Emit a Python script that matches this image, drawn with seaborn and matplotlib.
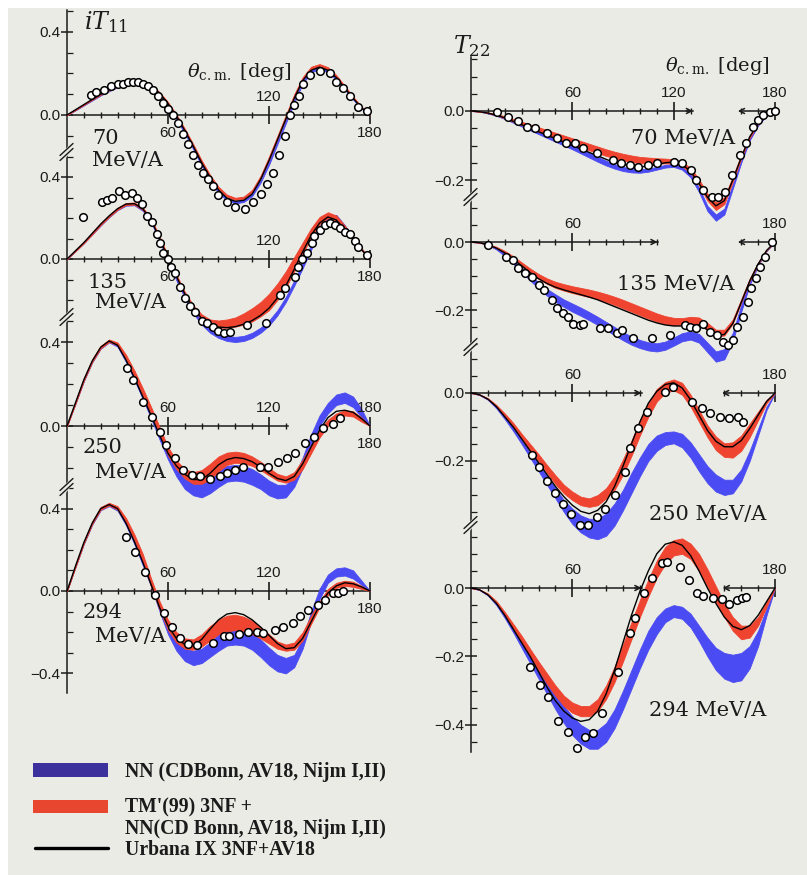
import numpy as np
import pandas as pd
import matplotlib
matplotlib.use("Agg")
import matplotlib.pyplot as plt
from matplotlib.lines import Line2D
from matplotlib.patches import Rectangle
import seaborn as sns

sns.set_style("ticks")
plt.rcParams["font.family"] = ["DejaVu Sans"]
plt.rcParams["mathtext.fontset"] = "dejavuserif"
plt.rcParams["axes.unicode_minus"] = True

# ---------------- data ----------------
theta_grid = list(range(0, 181, 5))

# iT11, 70 MeV/A
it11_70_urb = [0, 0.025, 0.05, 0.075, 0.10, 0.12, 0.14, 0.152, 0.158, 0.155, 0.14, 0.105, 0.055, -0.005, -0.075, -0.15, -0.23, -0.30, -0.36, -0.40, -0.415, -0.41, -0.38, -0.31, -0.22, -0.12, -0.02, 0.08, 0.165, 0.215, 0.23, 0.215, 0.18, 0.13, 0.08, 0.035, 0]
it11_70_nn_lo = [0, 0.022, 0.046, 0.07, 0.094, 0.114, 0.133, 0.145, 0.15, 0.146, 0.13, 0.094, 0.042, -0.02, -0.09, -0.165, -0.245, -0.315, -0.375, -0.41, -0.425, -0.418, -0.39, -0.325, -0.24, -0.14, -0.04, 0.06, 0.15, 0.205, 0.22, 0.205, 0.17, 0.122, 0.074, 0.03, 0]
it11_70_nn_hi = [0, 0.025, 0.05, 0.075, 0.1, 0.12, 0.14, 0.151, 0.156, 0.153, 0.137, 0.1, 0.05, -0.01, -0.08, -0.155, -0.235, -0.305, -0.362, -0.4, -0.415, -0.408, -0.378, -0.31, -0.225, -0.125, -0.025, 0.075, 0.162, 0.215, 0.23, 0.215, 0.178, 0.128, 0.078, 0.034, 0]
it11_70_3nf_lo = [0, 0.024, 0.048, 0.073, 0.097, 0.117, 0.137, 0.15, 0.155, 0.152, 0.138, 0.103, 0.054, -0.006, -0.075, -0.15, -0.228, -0.298, -0.355, -0.393, -0.408, -0.402, -0.372, -0.305, -0.215, -0.115, -0.015, 0.085, 0.17, 0.22, 0.233, 0.218, 0.182, 0.132, 0.082, 0.036, 0]
it11_70_3nf_hi = [0, 0.027, 0.053, 0.078, 0.103, 0.124, 0.144, 0.157, 0.162, 0.159, 0.145, 0.11, 0.062, 0.003, -0.066, -0.14, -0.218, -0.288, -0.345, -0.383, -0.398, -0.392, -0.36, -0.292, -0.2, -0.1, 0.0, 0.1, 0.182, 0.232, 0.245, 0.23, 0.192, 0.14, 0.088, 0.04, 0]
it11_70_exp_theta = [14, 17, 22, 26, 30, 33, 36, 39, 42, 45, 48, 51, 54, 57, 60, 63, 66, 69, 72, 75, 78, 81, 84, 87, 90, 95, 100, 106, 110.5, 115, 119, 122.5, 126, 129.5, 132.5, 135, 138, 140, 144.5, 150, 156, 160, 164, 168, 173, 178]
it11_70_exp_val = [0.095, 0.11, 0.12, 0.14, 0.15, 0.15, 0.16, 0.16, 0.16, 0.15, 0.14, 0.12, 0.09, 0.06, 0.03, 0.0, -0.04, -0.09, -0.14, -0.19, -0.24, -0.28, -0.31, -0.34, -0.385, -0.42, -0.44, -0.45, -0.42, -0.38, -0.33, -0.28, -0.19, -0.10, 0.0, 0.05, 0.09, 0.15, 0.19, 0.21, 0.20, 0.16, 0.13, 0.09, 0.04, 0.02]

# iT11, 135 MeV/A
it11_135_urb = [0, 0.04, 0.08, 0.125, 0.17, 0.21, 0.245, 0.268, 0.27, 0.245, 0.19, 0.1, 0.005, -0.085, -0.17, -0.24, -0.29, -0.32, -0.332, -0.335, -0.33, -0.318, -0.30, -0.275, -0.24, -0.19, -0.13, -0.05, 0.035, 0.115, 0.175, 0.205, 0.19, 0.145, 0.095, 0.045, 0]
it11_135_nn_lo = [0, 0.038, 0.076, 0.12, 0.163, 0.203, 0.238, 0.26, 0.262, 0.235, 0.178, 0.085, -0.012, -0.105, -0.19, -0.265, -0.32, -0.36, -0.385, -0.4, -0.405, -0.4, -0.385, -0.36, -0.325, -0.275, -0.21, -0.13, -0.045, 0.045, 0.135, 0.195, 0.195, 0.15, 0.095, 0.043, 0]
it11_135_nn_hi = [0, 0.041, 0.081, 0.126, 0.17, 0.21, 0.245, 0.268, 0.27, 0.245, 0.19, 0.1, 0.003, -0.088, -0.172, -0.245, -0.3, -0.335, -0.36, -0.375, -0.38, -0.375, -0.36, -0.335, -0.3, -0.25, -0.185, -0.105, -0.02, 0.07, 0.16, 0.215, 0.215, 0.165, 0.108, 0.052, 0]
it11_135_3nf_lo = [0, 0.038, 0.077, 0.12, 0.165, 0.205, 0.24, 0.263, 0.265, 0.24, 0.185, 0.095, 0.0, -0.09, -0.175, -0.245, -0.295, -0.325, -0.335, -0.335, -0.33, -0.32, -0.305, -0.28, -0.25, -0.2, -0.14, -0.06, 0.025, 0.105, 0.17, 0.2, 0.188, 0.143, 0.093, 0.043, 0]
it11_135_3nf_hi = [0, 0.042, 0.083, 0.13, 0.175, 0.215, 0.25, 0.273, 0.276, 0.252, 0.198, 0.11, 0.015, -0.075, -0.16, -0.225, -0.27, -0.295, -0.3, -0.295, -0.285, -0.265, -0.24, -0.21, -0.17, -0.12, -0.06, 0.01, 0.08, 0.15, 0.205, 0.228, 0.212, 0.163, 0.108, 0.052, 0]
it11_135_exp_theta = [9.7, 20.6, 23.5, 27, 31, 34.5, 38.5, 41.5, 44.5, 47.5, 50.5, 53.5, 55, 57, 60, 62, 64, 67, 70, 73, 76, 80, 83, 87, 90, 93, 97, 107, 118, 126.5, 129.5, 135.5, 137, 139.5, 142.5, 145.5, 147, 150, 153, 156, 159, 162, 165, 168, 171, 173, 178]
it11_135_exp_val = [0.205, 0.28, 0.29, 0.30, 0.33, 0.31, 0.32, 0.30, 0.27, 0.21, 0.18, 0.12, 0.08, 0.03, 0.0, -0.04, -0.07, -0.135, -0.19, -0.23, -0.26, -0.30, -0.31, -0.33, -0.35, -0.36, -0.355, -0.32, -0.31, -0.175, -0.14, -0.09, -0.04, 0.0, 0.03, 0.08, 0.11, 0.14, 0.165, 0.175, 0.165, 0.15, 0.13, 0.12, 0.09, 0.06, 0.02]

# iT11, 250 MeV/A
it11_250_urb = [0, 0.11, 0.22, 0.31, 0.375, 0.405, 0.385, 0.315, 0.23, 0.14, 0.05, -0.045, -0.13, -0.19, -0.23, -0.255, -0.255, -0.225, -0.185, -0.16, -0.15, -0.155, -0.17, -0.195, -0.225, -0.25, -0.26, -0.24, -0.18, -0.10, -0.02, 0.04, 0.07, 0.075, 0.065, 0.035, 0]
it11_250_nn_lo = [0, 0.105, 0.213, 0.303, 0.368, 0.398, 0.378, 0.305, 0.22, 0.128, 0.035, -0.065, -0.16, -0.24, -0.3, -0.33, -0.34, -0.32, -0.29, -0.265, -0.26, -0.265, -0.28, -0.3, -0.33, -0.345, -0.34, -0.29, -0.2, -0.09, 0.0, 0.06, 0.1, 0.11, 0.09, 0.04, 0]
it11_250_nn_hi = [0, 0.11, 0.22, 0.31, 0.375, 0.405, 0.385, 0.315, 0.23, 0.14, 0.048, -0.045, -0.13, -0.2, -0.25, -0.27, -0.27, -0.25, -0.21, -0.19, -0.185, -0.19, -0.205, -0.23, -0.26, -0.28, -0.28, -0.24, -0.15, -0.04, 0.05, 0.11, 0.15, 0.16, 0.14, 0.08, 0]
it11_250_3nf_lo = [0, 0.105, 0.215, 0.305, 0.37, 0.40, 0.385, 0.315, 0.235, 0.145, 0.055, -0.04, -0.14, -0.205, -0.25, -0.275, -0.275, -0.255, -0.215, -0.185, -0.175, -0.178, -0.19, -0.21, -0.235, -0.26, -0.27, -0.255, -0.205, -0.13, -0.055, 0.0, 0.035, 0.05, 0.045, 0.02, 0]
it11_250_3nf_hi = [0, 0.115, 0.228, 0.318, 0.382, 0.412, 0.398, 0.34, 0.265, 0.18, 0.09, -0.005, -0.1, -0.165, -0.205, -0.22, -0.21, -0.18, -0.145, -0.127, -0.122, -0.128, -0.145, -0.17, -0.2, -0.228, -0.24, -0.22, -0.16, -0.09, -0.02, 0.03, 0.06, 0.075, 0.07, 0.04, 0]
it11_250_exp_theta = [35.5, 39.5, 45, 50.5, 55, 59, 64, 69, 74, 79, 85, 91, 95, 100, 104.5, 114.5, 119.5, 125.5, 130.5, 135.5, 141.5, 147, 152, 158, 162]
it11_250_exp_val = [0.275, 0.22, 0.115, 0.045, -0.03, -0.09, -0.15, -0.21, -0.235, -0.24, -0.25, -0.24, -0.225, -0.21, -0.195, -0.195, -0.195, -0.17, -0.15, -0.13, -0.08, -0.05, -0.01, 0.01, 0.04]

# iT11, 294 MeV/A
it11_294_urb = [0, 0.12, 0.235, 0.33, 0.40, 0.42, 0.40, 0.33, 0.24, 0.14, 0.03, -0.08, -0.17, -0.23, -0.26, -0.265, -0.235, -0.185, -0.14, -0.112, -0.105, -0.115, -0.14, -0.175, -0.215, -0.255, -0.28, -0.275, -0.23, -0.15, -0.07, -0.01, 0.025, 0.04, 0.035, 0.02, 0]
it11_294_nn_lo = [0, 0.115, 0.228, 0.322, 0.392, 0.412, 0.39, 0.32, 0.228, 0.125, 0.02, -0.1, -0.21, -0.29, -0.34, -0.36, -0.35, -0.32, -0.29, -0.265, -0.26, -0.265, -0.285, -0.32, -0.36, -0.39, -0.40, -0.37, -0.28, -0.15, -0.04, 0.04, 0.07, 0.075, 0.06, 0.03, 0]
it11_294_nn_hi = [0, 0.12, 0.235, 0.33, 0.4, 0.42, 0.4, 0.33, 0.24, 0.14, 0.04, -0.07, -0.17, -0.24, -0.28, -0.29, -0.28, -0.25, -0.21, -0.185, -0.175, -0.18, -0.2, -0.235, -0.275, -0.31, -0.325, -0.31, -0.23, -0.1, 0.01, 0.08, 0.11, 0.115, 0.1, 0.05, 0]
it11_294_3nf_lo = [0, 0.115, 0.23, 0.325, 0.395, 0.415, 0.395, 0.33, 0.245, 0.145, 0.02, -0.09, -0.19, -0.25, -0.28, -0.285, -0.27, -0.24, -0.21, -0.195, -0.19, -0.195, -0.21, -0.23, -0.255, -0.28, -0.29, -0.285, -0.24, -0.16, -0.08, -0.02, 0.015, 0.025, 0.02, 0.01, 0]
it11_294_3nf_hi = [0, 0.125, 0.24, 0.338, 0.408, 0.428, 0.412, 0.355, 0.275, 0.18, 0.06, -0.05, -0.14, -0.2, -0.23, -0.235, -0.21, -0.17, -0.14, -0.12, -0.115, -0.125, -0.145, -0.175, -0.21, -0.245, -0.26, -0.25, -0.2, -0.12, -0.05, 0.01, 0.04, 0.05, 0.045, 0.025, 0]
it11_294_exp_theta = [35, 40.5, 46.5, 52.5, 57.5, 62.5, 67, 72, 77, 87, 93, 96, 102, 107.5, 113, 116.5, 123.5, 128.5, 134, 138.5, 143, 149, 153, 158, 161, 164]
it11_294_exp_val = [0.26, 0.19, 0.09, -0.02, -0.105, -0.175, -0.23, -0.255, -0.26, -0.25, -0.22, -0.22, -0.21, -0.20, -0.20, -0.205, -0.19, -0.175, -0.155, -0.12, -0.09, -0.07, -0.045, -0.01, -0.01, 0.0]

# T22, 70 MeV/A
t22_70_urb = [0, -0.002, -0.006, -0.012, -0.02, -0.03, -0.04, -0.05, -0.06, -0.07, -0.08, -0.09, -0.10, -0.11, -0.12, -0.13, -0.14, -0.15, -0.155, -0.16, -0.162, -0.16, -0.155, -0.15, -0.148, -0.155, -0.175, -0.21, -0.25, -0.275, -0.26, -0.2, -0.135, -0.075, -0.037, -0.011, 0]
t22_70_nn_lo = [0, -0.002, -0.007, -0.014, -0.023, -0.034, -0.045, -0.056, -0.067, -0.078, -0.089, -0.1, -0.111, -0.123, -0.135, -0.147, -0.158, -0.167, -0.174, -0.178, -0.179, -0.176, -0.17, -0.164, -0.162, -0.17, -0.192, -0.235, -0.29, -0.318, -0.3, -0.225, -0.15, -0.085, -0.042, -0.013, 0]
t22_70_nn_hi = [0, -0.001, -0.005, -0.011, -0.019, -0.029, -0.039, -0.049, -0.059, -0.069, -0.079, -0.089, -0.099, -0.11, -0.121, -0.133, -0.144, -0.154, -0.162, -0.167, -0.169, -0.167, -0.162, -0.156, -0.154, -0.161, -0.182, -0.222, -0.275, -0.3, -0.283, -0.212, -0.142, -0.08, -0.04, -0.012, 0]
t22_70_3nf_lo = [0, -0.002, -0.006, -0.013, -0.021, -0.031, -0.041, -0.051, -0.06, -0.07, -0.079, -0.088, -0.097, -0.106, -0.114, -0.122, -0.13, -0.137, -0.143, -0.148, -0.151, -0.152, -0.152, -0.152, -0.152, -0.16, -0.18, -0.215, -0.26, -0.287, -0.27, -0.205, -0.138, -0.078, -0.038, -0.011, 0]
t22_70_3nf_hi = [0, -0.001, -0.004, -0.009, -0.015, -0.023, -0.031, -0.039, -0.047, -0.055, -0.063, -0.071, -0.079, -0.087, -0.095, -0.103, -0.111, -0.118, -0.124, -0.129, -0.133, -0.135, -0.137, -0.138, -0.14, -0.147, -0.165, -0.198, -0.24, -0.265, -0.25, -0.19, -0.127, -0.072, -0.035, -0.01, 0]
t22_70_exp_theta = [15.4, 22, 28, 33, 38, 45, 51, 56.5, 61.5, 66.5, 74.5, 84, 89, 94, 99, 105, 110, 120, 125, 130, 133.5, 137.5, 142.5, 146.5, 150.5, 154.5, 159, 163, 167, 170, 173, 177, 180]
t22_70_exp_val = [-0.003, -0.017, -0.03, -0.046, -0.05, -0.064, -0.078, -0.093, -0.093, -0.108, -0.122, -0.142, -0.151, -0.157, -0.162, -0.157, -0.151, -0.148, -0.15, -0.171, -0.2, -0.229, -0.249, -0.249, -0.234, -0.186, -0.128, -0.094, -0.046, -0.026, -0.012, -0.003, 0.0]

# T22, 135 MeV/A
t22_135_urb = [0, -0.002, -0.008, -0.018, -0.032, -0.05, -0.07, -0.09, -0.108, -0.122, -0.133, -0.141, -0.148, -0.155, -0.162, -0.17, -0.18, -0.19, -0.2, -0.21, -0.22, -0.23, -0.238, -0.244, -0.247, -0.247, -0.243, -0.245, -0.258, -0.275, -0.272, -0.24, -0.178, -0.115, -0.065, -0.025, 0]
t22_135_nn_lo = [0, -0.002, -0.009, -0.022, -0.041, -0.064, -0.089, -0.113, -0.137, -0.158, -0.176, -0.191, -0.205, -0.217, -0.23, -0.244, -0.259, -0.274, -0.289, -0.302, -0.312, -0.319, -0.322, -0.317, -0.305, -0.292, -0.287, -0.296, -0.324, -0.352, -0.345, -0.293, -0.205, -0.127, -0.069, -0.027, 0]
t22_135_nn_hi = [0, -0.001, -0.007, -0.018, -0.033, -0.052, -0.075, -0.097, -0.119, -0.138, -0.154, -0.169, -0.181, -0.193, -0.206, -0.22, -0.235, -0.25, -0.265, -0.278, -0.288, -0.295, -0.298, -0.293, -0.281, -0.268, -0.263, -0.27, -0.296, -0.322, -0.315, -0.267, -0.185, -0.113, -0.061, -0.023, 0]
t22_135_3nf_lo = [0, -0.002, -0.008, -0.018, -0.032, -0.05, -0.07, -0.09, -0.108, -0.123, -0.135, -0.143, -0.15, -0.156, -0.162, -0.168, -0.176, -0.185, -0.195, -0.205, -0.215, -0.225, -0.234, -0.241, -0.245, -0.243, -0.238, -0.242, -0.258, -0.278, -0.275, -0.24, -0.178, -0.115, -0.065, -0.025, 0]
t22_135_3nf_hi = [0, -0.001, -0.006, -0.014, -0.026, -0.042, -0.06, -0.078, -0.094, -0.107, -0.117, -0.124, -0.13, -0.135, -0.14, -0.146, -0.153, -0.161, -0.17, -0.18, -0.19, -0.2, -0.21, -0.218, -0.223, -0.224, -0.22, -0.222, -0.238, -0.258, -0.258, -0.228, -0.168, -0.108, -0.06, -0.022, 0]
t22_135_exp_theta = [10, 21, 25, 28, 32, 36, 40, 43, 48, 51, 54.5, 57.5, 60.5, 64.5, 66.5, 76.5, 81, 86.5, 89.5, 96, 107, 118, 127, 129.5, 133.5, 137.5, 141.5, 145.5, 149.5, 152, 155, 157.5, 161, 164, 166, 169, 171, 174, 178]
t22_135_exp_val = [-0.01, -0.043, -0.053, -0.077, -0.092, -0.102, -0.126, -0.141, -0.17, -0.195, -0.21, -0.22, -0.24, -0.245, -0.24, -0.253, -0.253, -0.268, -0.26, -0.283, -0.283, -0.274, -0.245, -0.25, -0.253, -0.24, -0.265, -0.274, -0.294, -0.303, -0.288, -0.25, -0.22, -0.176, -0.135, -0.106, -0.074, -0.044, 0.0]

# T22, 250 MeV/A
t22_250_urb = [0, -0.005, -0.018, -0.04, -0.07, -0.10, -0.135, -0.17, -0.205, -0.24, -0.275, -0.305, -0.33, -0.348, -0.355, -0.345, -0.32, -0.275, -0.215, -0.15, -0.085, -0.03, 0.005, 0.025, 0.03, 0.015, -0.02, -0.065, -0.11, -0.142, -0.158, -0.158, -0.14, -0.105, -0.065, -0.025, 0]
t22_250_nn_lo = [0, -0.006, -0.02, -0.045, -0.077, -0.112, -0.15, -0.19, -0.23, -0.27, -0.31, -0.35, -0.385, -0.41, -0.425, -0.43, -0.42, -0.39, -0.345, -0.295, -0.245, -0.2, -0.17, -0.153, -0.148, -0.16, -0.19, -0.23, -0.265, -0.29, -0.3, -0.295, -0.26, -0.2, -0.125, -0.05, 0]
t22_250_nn_hi = [0, -0.005, -0.017, -0.04, -0.07, -0.103, -0.14, -0.175, -0.21, -0.245, -0.28, -0.315, -0.34, -0.36, -0.37, -0.37, -0.355, -0.325, -0.285, -0.235, -0.19, -0.15, -0.125, -0.115, -0.113, -0.12, -0.145, -0.18, -0.215, -0.24, -0.255, -0.255, -0.225, -0.17, -0.105, -0.04, 0]
t22_250_3nf_lo = [0, -0.005, -0.018, -0.04, -0.068, -0.1, -0.135, -0.168, -0.2, -0.235, -0.268, -0.295, -0.315, -0.33, -0.335, -0.33, -0.31, -0.285, -0.24, -0.185, -0.125, -0.07, -0.025, 0.0, 0.008, -0.005, -0.04, -0.085, -0.13, -0.168, -0.188, -0.19, -0.17, -0.13, -0.08, -0.03, 0]
t22_250_3nf_hi = [0, -0.004, -0.015, -0.035, -0.06, -0.088, -0.12, -0.15, -0.18, -0.212, -0.242, -0.27, -0.29, -0.305, -0.31, -0.3, -0.28, -0.245, -0.195, -0.14, -0.08, -0.03, 0.012, 0.032, 0.04, 0.03, -0.005, -0.05, -0.095, -0.128, -0.148, -0.145, -0.125, -0.09, -0.055, -0.02, 0]
t22_250_exp_theta = [36, 40, 45, 50, 54.5, 59.5, 64.5, 69, 74.5, 79.5, 85, 91, 94, 99, 104, 115, 119.5, 131, 136.5, 141.5, 147.5, 153, 158, 161]
t22_250_exp_val = [-0.182, -0.217, -0.26, -0.295, -0.325, -0.355, -0.388, -0.388, -0.365, -0.34, -0.30, -0.232, -0.162, -0.103, -0.056, 0.003, 0.018, -0.026, -0.044, -0.059, -0.07, -0.074, -0.07, -0.085]

# T22, 294 MeV/A
t22_294_urb = [0, -0.005, -0.02, -0.045, -0.08, -0.12, -0.16, -0.2, -0.245, -0.29, -0.33, -0.36, -0.38, -0.39, -0.385, -0.36, -0.31, -0.24, -0.16, -0.08, -0.01, 0.05, 0.1, 0.128, 0.135, 0.125, 0.095, 0.05, 0.0, -0.045, -0.085, -0.112, -0.122, -0.11, -0.08, -0.04, 0]
t22_294_nn_lo = [0, -0.006, -0.022, -0.05, -0.088, -0.13, -0.175, -0.22, -0.265, -0.31, -0.355, -0.395, -0.43, -0.455, -0.47, -0.47, -0.45, -0.41, -0.355, -0.295, -0.235, -0.18, -0.135, -0.1, -0.085, -0.09, -0.115, -0.155, -0.2, -0.24, -0.265, -0.275, -0.27, -0.235, -0.17, -0.08, 0]
t22_294_nn_hi = [0, -0.005, -0.018, -0.043, -0.078, -0.115, -0.155, -0.195, -0.235, -0.275, -0.31, -0.345, -0.375, -0.4, -0.415, -0.415, -0.395, -0.355, -0.3, -0.24, -0.18, -0.125, -0.085, -0.06, -0.05, -0.055, -0.075, -0.11, -0.145, -0.175, -0.19, -0.195, -0.19, -0.17, -0.125, -0.06, 0]
t22_294_3nf_lo = [0, -0.005, -0.02, -0.045, -0.08, -0.12, -0.16, -0.2, -0.24, -0.28, -0.315, -0.345, -0.365, -0.375, -0.375, -0.36, -0.325, -0.275, -0.215, -0.15, -0.085, -0.025, 0.03, 0.07, 0.095, 0.1, 0.085, 0.05, 0.005, -0.04, -0.085, -0.125, -0.15, -0.145, -0.11, -0.055, 0]
t22_294_3nf_hi = [0, -0.004, -0.016, -0.038, -0.07, -0.105, -0.14, -0.178, -0.215, -0.25, -0.285, -0.315, -0.335, -0.345, -0.345, -0.325, -0.285, -0.23, -0.165, -0.1, -0.035, 0.025, 0.08, 0.12, 0.14, 0.145, 0.13, 0.1, 0.055, 0.005, -0.045, -0.085, -0.11, -0.11, -0.085, -0.04, 0]
t22_294_exp_theta = [35, 41, 45.5, 51.5, 57.5, 62.5, 67.5, 72.5, 77.5, 87, 94, 97, 102.5, 107, 113, 116, 123.5, 129, 134, 137.5, 143, 148.5, 153, 157.5, 160.5, 163]
t22_294_exp_val = [-0.23, -0.283, -0.318, -0.39, -0.42, -0.467, -0.435, -0.424, -0.366, -0.245, -0.132, -0.088, -0.015, 0.029, 0.073, 0.076, 0.061, 0.023, -0.015, -0.023, -0.029, -0.032, -0.047, -0.035, -0.029, -0.026]

energy_labels = ["70", "135", "250", "294"]
legend_labels = ["NN (CDBonn, AV18, Nijm I,II)", "TM'(99) 3NF +",
                 "NN(CD Bonn, AV18, Nijm I,II)", "Urbana IX 3NF+AV18"]

# ---------------- styling / layout ----------------
W, H = 807, 875
BG = "#ebebe5"
BLUE = "#4b4bf3"
RED = "#ef4430"
LEG_BLUE = "#3b309c"
LEG_RED = "#e9462f"
INK = "#1b1b1b"
TICK_FONT = "Liberation Sans"
SERIF = "DejaVu Serif"


def fx(x):
    return x / W


def fy(y):
    return 1 - y / H


fig = plt.figure(figsize=(W / 100, H / 100), dpi=100, facecolor="white")
fig.add_artist(Rectangle((fx(8), fy(875)), fx(807) - fx(8), fy(8) - fy(875),
                         transform=fig.transFigure, facecolor=BG,
                         edgecolor="none", zorder=-10))

left_x = (67, 370)
right_x = (471, 775)

panels = [
    # left column (iT11)
    dict(col=left_x, top=10, bot=152, zero=115, scale=208, yt=[0.0, 0.4], ystep=0.1,
         segs=[(0, 180)], arrows=False, majx=[60, 120, 180],
         xlab=[(60, -1), (120, 1), (180, -1)],
         d=(it11_70_urb, it11_70_nn_lo, it11_70_nn_hi, it11_70_3nf_lo, it11_70_3nf_hi,
            it11_70_exp_theta, it11_70_exp_val)),
    dict(col=left_x, top=152, bot=317, zero=259, scale=205, yt=[0.0, 0.4], ystep=0.1,
         segs=[(0, 180)], arrows=False, majx=[60, 120, 180],
         xlab=[(60, -1), (120, 1), (180, -1)],
         d=(it11_135_urb, it11_135_nn_lo, it11_135_nn_hi, it11_135_3nf_lo, it11_135_3nf_hi,
            it11_135_exp_theta, it11_135_exp_val)),
    dict(col=left_x, top=317, bot=487, zero=426, scale=210, yt=[0.0, 0.4], ystep=0.1,
         segs=[(0, 131)], arrows=False, majx=[60, 120, 180],
         xlab=[(60, 1), (120, 1), (180, 1), (180, -1)],
         d=(it11_250_urb, it11_250_nn_lo, it11_250_nn_hi, it11_250_3nf_lo, it11_250_3nf_hi,
            it11_250_exp_theta, it11_250_exp_val)),
    dict(col=left_x, top=487, bot=693, zero=591, scale=206, yt=[-0.4, 0.0, 0.4], ystep=0.1,
         segs=[(0, 180)], arrows=False, majx=[60, 120, 180],
         xlab=[(60, 1), (120, 1), (180, -1)],
         d=(it11_294_urb, it11_294_nn_lo, it11_294_nn_hi, it11_294_3nf_lo, it11_294_3nf_hi,
            it11_294_exp_theta, it11_294_exp_val)),
    # right column (T22)
    dict(col=right_x, top=57, bot=197, zero=111, scale=345, yt=[-0.2, 0.0], ystep=0.05,
         segs=[(0, 131.5), (158, 180)], arrows=True, majx=[60, 120, 180],
         xlab=[(60, 1), (120, 1), (180, 1)],
         d=(t22_70_urb, t22_70_nn_lo, t22_70_nn_hi, t22_70_3nf_lo, t22_70_3nf_hi,
            t22_70_exp_theta, t22_70_exp_val)),
    dict(col=right_x, top=197, bot=347, zero=242, scale=340, yt=[-0.2, 0.0], ystep=0.05,
         segs=[(0, 110.5), (158, 180)], arrows=True, majx=[60, 180],
         xlab=[(60, 1), (180, 1)],
         d=(t22_135_urb, t22_135_nn_lo, t22_135_nn_hi, t22_135_3nf_lo, t22_135_3nf_hi,
            t22_135_exp_theta, t22_135_exp_val)),
    dict(col=right_x, top=347, bot=525, zero=393, scale=340, yt=[-0.2, 0.0], ystep=0.05,
         segs=[(0, 101), (148.6, 180)], arrows=True, majx=[60, 180],
         xlab=[(60, 1), (180, 1)],
         d=(t22_250_urb, t22_250_nn_lo, t22_250_nn_hi, t22_250_3nf_lo, t22_250_3nf_hi,
            t22_250_exp_theta, t22_250_exp_val)),
    dict(col=right_x, top=525, bot=752, zero=588, scale=342, yt=[-0.4, -0.2, 0.0], ystep=0.05,
         segs=[(0, 101), (149, 180)], arrows=True, majx=[60, 180],
         xlab=[(60, 1), (180, 1)],
         d=(t22_294_urb, t22_294_nn_lo, t22_294_nn_hi, t22_294_3nf_lo, t22_294_3nf_hi,
            t22_294_exp_theta, t22_294_exp_val)),
]

arrow_kw = dict(arrowstyle="->", lw=1.1, color=INK, mutation_scale=9,
                shrinkA=0, shrinkB=0)

for p in panels:
    x0, x1 = p["col"]
    ax = fig.add_axes([fx(x0), fy(p["bot"]), fx(x1) - fx(x0), fy(p["top"]) - fy(p["bot"])])
    ax.set_facecolor("none")
    ax.set_xlim(0, 180)
    ax.set_ylim((p["zero"] - p["bot"]) / p["scale"], (p["zero"] - p["top"]) / p["scale"])

    urb, nn_lo, nn_hi, tnf_lo, tnf_hi, ex_t, ex_v = p["d"]
    band1 = ax.fill_between(theta_grid, nn_lo, nn_hi, color=BLUE, lw=0.6, zorder=3)
    band2 = ax.fill_between(theta_grid, tnf_lo, tnf_hi, color=RED, lw=0.6, zorder=3.2)
    band1.set_clip_on(False)
    band2.set_clip_on(False)
    df = pd.DataFrame({"theta": theta_grid, "urb": urb})
    sns.lineplot(data=df, x="theta", y="urb", ax=ax, color="black", linewidth=1.0,
                 sort=False, estimator=None, zorder=4)
    for ln in ax.lines:
        ln.set_clip_on(False)
    sns.scatterplot(x=ex_t, y=ex_v, ax=ax, s=30, color="white", edgecolor="black",
                    linewidth=1.1, zorder=5, legend=False)
    for c in ax.collections:
        c.set_clip_on(False)
    ax.set_xlabel("")
    ax.set_ylabel("")

    # spines / axes lines
    for s in ("top", "right"):
        ax.spines[s].set_visible(False)
    ax.spines["left"].set_linewidth(1.1)
    ax.spines["left"].set_color(INK)
    ax.spines["bottom"].set_position(("data", 0))
    ax.spines["bottom"].set_linewidth(1.1)
    ax.spines["bottom"].set_color(INK)
    segs = p["segs"]
    ax.spines["bottom"].set_bounds(segs[0][0], segs[0][1])
    if p["arrows"]:
        e = segs[0][1]
        ax.annotate("", xy=(e, 0), xytext=(e - 4, 0), arrowprops=arrow_kw,
                    annotation_clip=False)
        ax.annotate("", xy=(segs[1][0], 0), xytext=(180, 0), arrowprops=arrow_kw,
                    annotation_clip=False)

    # x ticks
    ax.set_xticks(p["majx"])
    minors = [m for m in range(10, 180, 10)
              if m not in (60, 120) and any(a <= m <= b for a, b in segs)]
    ax.set_xticks(minors, minor=True)
    ax.tick_params(axis="x", which="major", direction="inout", length=13, width=1.2,
                   color=INK, labelbottom=False)
    ax.tick_params(axis="x", which="minor", direction="inout", length=5, width=1.0,
                   color=INK)
    for v, side in p["xlab"]:
        ax.annotate(str(v), xy=(v, 0), xytext=(0, 13 * side), textcoords="offset points",
                    ha="center", va="center", fontsize=11, family=TICK_FONT, color=INK,
                    annotation_clip=False)

    # y ticks
    ax.set_yticks(p["yt"])
    ax.set_yticklabels([f"{v:.1f}".replace("-", "\u2212") for v in p["yt"]],
                       family=TICK_FONT, fontsize=11, color=INK)
    ax.yaxis.set_minor_locator(matplotlib.ticker.MultipleLocator(p["ystep"]))
    ax.tick_params(axis="y", which="major", direction="inout", length=8, width=1.1,
                   color=INK, pad=1)
    ax.tick_params(axis="y", which="minor", direction="in", length=4, width=0.9,
                   color=INK)

# break marks on the vertical axes
for xb, yb in [(67, 152), (67, 317), (67, 487), (471, 197), (471, 347), (471, 525)]:
    fig.add_artist(Line2D([fx(xb - 4), fx(xb + 4)], [fy(yb + 5), fy(yb - 5)],
                          transform=fig.transFigure, color=BG, lw=4, zorder=20))
    for dy in (-2.5, 2.5):
        fig.add_artist(Line2D([fx(xb - 7), fx(xb + 6)], [fy(yb + 6 + dy), fy(yb - 6 + dy)],
                              transform=fig.transFigure, color=INK, lw=1.0, zorder=21))

# titles and axis labels
fig.text(fx(84), fy(22), r"$iT_{11}$", fontsize=17, ha="left", va="center", color=INK)
fig.text(fx(453), fy(46), r"$T_{22}$", fontsize=17, ha="left", va="center", color=INK)
fig.text(fx(239), fy(72), r"$\theta_{\rm c.m.}$ [deg]", fontsize=14, ha="center",
         va="center", family=SERIF, color=INK)
fig.text(fx(717), fy(66), r"$\theta_{\rm c.m.}$ [deg]", fontsize=14, ha="center",
         va="center", family=SERIF, color=INK)

# energy labels, left column
left_lab_pos = [((92, 138), (92, 160)), ((87, 283), (95, 302)),
                ((83, 447), (95, 472)), ((83, 613), (95, 637))]
for lab, ((ax_, ay_), (bx_, by_)) in zip(energy_labels, left_lab_pos):
    fig.text(fx(ax_), fy(ay_), lab, fontsize=15, family=SERIF, ha="left", va="center",
             color=INK)
    fig.text(fx(bx_), fy(by_), "MeV/A", fontsize=15, family=SERIF, ha="left",
             va="center", color=INK)

# energy labels, right column
right_lab_pos = [(683, 138), (676, 285), (708, 515), (708, 711)]
for lab, (rx, ry) in zip(energy_labels, right_lab_pos):
    fig.text(fx(rx), fy(ry), f"{lab} MeV/A", fontsize=15, family=SERIF, ha="center",
             va="center", color=INK)

# legend
fig.add_artist(Rectangle((fx(33), fy(777)), fx(108) - fx(33), fy(763) - fy(777),
                         transform=fig.transFigure, facecolor=LEG_BLUE, edgecolor="none"))
fig.add_artist(Rectangle((fx(33), fy(813)), fx(108) - fx(33), fy(800) - fy(813),
                         transform=fig.transFigure, facecolor=LEG_RED, edgecolor="none"))
fig.add_artist(Line2D([fx(35), fx(108)], [fy(848), fy(848)], transform=fig.transFigure,
                      color="black", lw=2.4))
for txt, yy in zip(legend_labels, [772, 807, 829, 850]):
    fig.text(fx(125), fy(yy), txt, fontsize=14.2, family="Liberation Serif",
             weight="bold", ha="left", va="center", color=INK)

fig.savefig("out.png", dpi=100, facecolor="white")
